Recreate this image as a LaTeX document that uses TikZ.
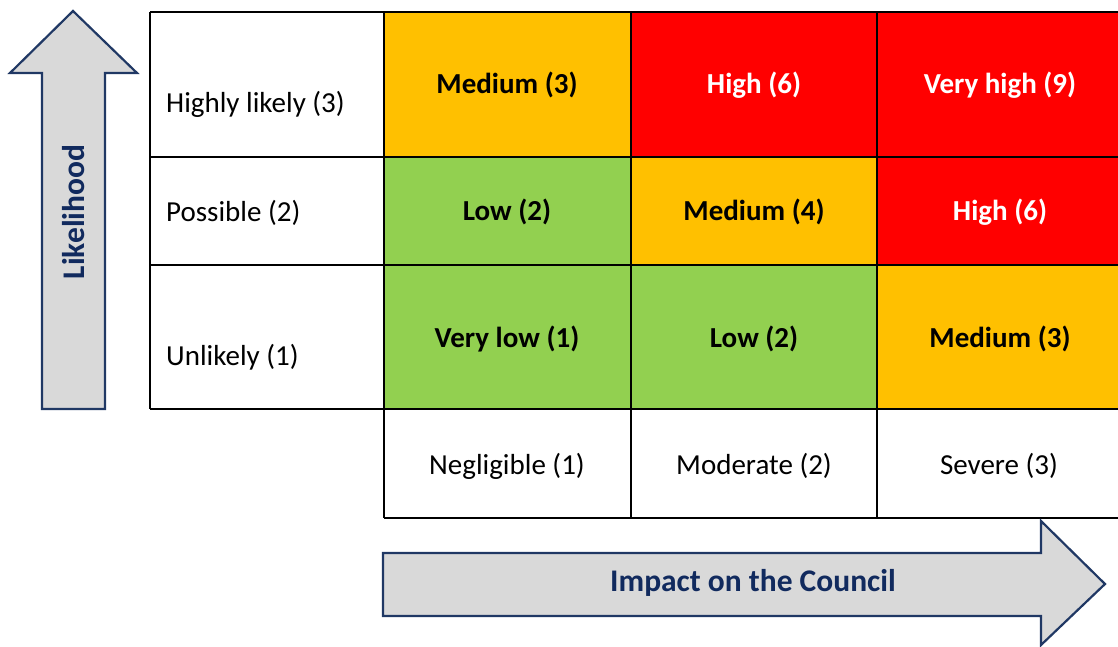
\documentclass[tikz,border=0pt]{standalone}
\usepackage{fontspec}
\setmainfont{Carlito}
\definecolor{cOrange}{HTML}{FFC000}
\definecolor{cRed}{HTML}{FF0000}
\definecolor{cGreen}{HTML}{92D050}
\definecolor{cArrow}{HTML}{D9D9D9}
\definecolor{cEdge}{HTML}{203864}
\definecolor{cNavy}{HTML}{112A5E}
\tikzset{
  grid line/.style={draw=black, line width=2pt},
  arrowshape/.style={fill=cArrow, draw=cEdge, line width=2.2pt, line join=miter},
  rowlab/.style={anchor=west, inner sep=0pt, font=\fontsize{29}{34}\selectfont},
  collab/.style={inner sep=0pt, font=\fontsize{29}{34}\selectfont},
  celllab/.style={inner sep=0pt, font=\fontsize{29}{34}\selectfont\bfseries},
  axislab/.style={inner sep=0pt, text=cNavy, font=\fontsize{31.5}{36}\selectfont\bfseries},
}
\begin{document}
\begin{tikzpicture}[x=1pt,y=-1pt]
\useasboundingbox (0,0) rectangle (1118,646);
% cell fills
\fill[cOrange] (384,12) rectangle (631,157);
\fill[cRed] (631,12) rectangle (877,157);
\fill[cRed] (877,12) rectangle (1125,157);
\fill[cGreen] (384,157) rectangle (631,265);
\fill[cOrange] (631,157) rectangle (877,265);
\fill[cRed] (877,157) rectangle (1125,265);
\fill[cGreen] (384,265) rectangle (631,409);
\fill[cGreen] (631,265) rectangle (877,409);
\fill[cOrange] (877,265) rectangle (1125,409);
% grid lines
\draw[grid line] (150,12) -- (1125,12);
\draw[grid line] (150,157) -- (1125,157);
\draw[grid line] (150,265) -- (1125,265);
\draw[grid line] (150,409) -- (1125,409);
\draw[grid line] (384,518) -- (1125,518);
\draw[grid line] (150,12) -- (150,409);
\draw[grid line] (384,12) -- (384,518);
\draw[grid line] (631,12) -- (631,518);
\draw[grid line] (877,12) -- (877,518);
% arrows
\draw[arrowshape] (42,409) -- (42,73) -- (10,73) -- (73,11) -- (137,73) -- (105,73) -- (105,409) -- cycle;
\draw[arrowshape] (383,553) -- (1041,553) -- (1041,521) -- (1105,584) -- (1041,645) -- (1041,616) -- (383,616) -- cycle;
\node[axislab, rotate=90] (likelihood) at (74,212) {Likelihood};
\node[axislab] (impact) at (753,583) {Impact on the Council};
% row labels
\node[rowlab] (r3) at (166,104) {Highly likely (3)};
\node[rowlab] (r2) at (166,213) {Possible (2)};
\node[rowlab] (r1) at (166,357) {Unlikely (1)};
% column labels
\node[collab] (c1) at (507,466) {Negligible (1)};
\node[collab] (c2) at (754,466) {Moderate (2)};
\node[collab] (c3) at (999,466) {Severe (3)};
% cells
\node[celllab] (m13) at (507,85) {Medium (3)};
\node[celllab, text=white] (m23) at (754,85) {High (6)};
\node[celllab, text=white] (m33) at (1000,85) {Very high (9)};
\node[celllab] (m12) at (507,212) {Low (2)};
\node[celllab] (m22) at (754,212) {Medium (4)};
\node[celllab, text=white] (m32) at (1000,212) {High (6)};
\node[celllab] (m11) at (507,339) {Very low (1)};
\node[celllab] (m21) at (754,339) {Low (2)};
\node[celllab] (m31) at (1000,339) {Medium (3)};
\end{tikzpicture}
\end{document}
